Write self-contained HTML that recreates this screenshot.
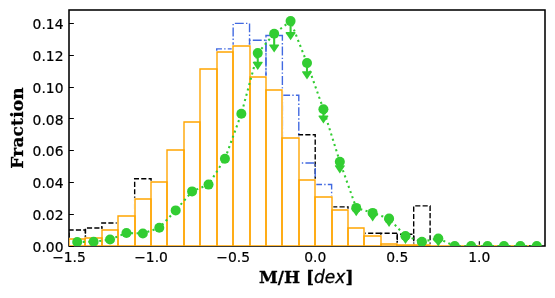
<!DOCTYPE html>
<html lang="en"><head><meta charset="utf-8"><title>M/H distribution</title>
<style>html,body{margin:0;padding:0;background:#fff}body{width:555px;height:298px;overflow:hidden}svg{display:block}</style>
</head><body>
<svg width="555" height="298" viewBox="0 0 555 298">
<rect width="555" height="298" fill="#fff"/>
<defs><clipPath id="ax"><rect x="69.0" y="10.0" width="476.0" height="236.0"/></clipPath></defs>
<rect x="69.0" y="10.0" width="476.00" height="236.00" fill="none" stroke="#000" stroke-width="1.55" />
<path d="M151.07 246.0v-4.86M233.14 246.0v-4.86M315.21 246.0v-4.86M397.28 246.0v-4.86M479.34 246.0v-4.86M69.0 246.50h4.86M69.0 214.50h4.86M69.0 182.50h4.86M69.0 150.50h4.86M69.0 118.50h4.86M69.0 87.50h4.86M69.0 55.50h4.86M69.0 23.50h4.86" stroke="#000" stroke-width="1.11" fill="none"/>
<g clip-path="url(#ax)">
<g stroke="#000" stroke-width="1.39" fill="none" stroke-dasharray="5.14 2.22"><path d="M69.00 246.0H85.41V230.00H69.00Z"/><path d="M85.41 246.0H101.83V228.00H85.41Z"/><path d="M101.83 246.0H118.24V223.00H101.83Z"/><path d="M134.66 246.0H151.07V178.80H134.66Z"/><path d="M298.79 246.0H315.21V134.70H298.79Z"/><path d="M331.62 246.0H348.03V206.90H331.62Z"/><path d="M364.45 246.0H380.86V233.20H364.45Z"/><path d="M380.86 246.0H397.28V233.20H380.86Z"/><path d="M397.28 246.0H413.69V234.20H397.28Z"/><path d="M413.69 246.0H430.10V205.90H413.69Z"/></g>
<g stroke="#4169e1" stroke-width="1.39" fill="none" stroke-dasharray="8.89 2.22 1.39 2.22"><path d="M216.72 246.0H233.14V48.90H216.72Z" stroke-dashoffset="10.82"/><path d="M233.14 246.0H249.55V23.40H233.14Z" stroke-dashoffset="5.44"/><path d="M249.55 246.0H265.97V40.30H249.55Z" stroke-dashoffset="9.12"/><path d="M265.97 246.0H282.38V35.50H265.97Z" stroke-dashoffset="13.9"/><path d="M282.38 246.0H298.79V95.30H282.38Z" stroke-dashoffset="0.82"/><path d="M298.79 246.0H315.21V163.00H298.79Z" stroke-dashoffset="2.73"/><path d="M315.21 246.0H331.62V184.50H315.21Z" stroke-dashoffset="0.79"/></g>
<g fill="#fff" stroke="#fff" stroke-width="2.6" stroke-linejoin="miter"><path d="M69 246.0V239.00H85V246.0Z"/><path d="M85 246.0V238.00H102V246.0Z"/><path d="M102 246.0V230.00H118V246.0Z"/><path d="M118 246.0V216.00H135V246.0Z"/><path d="M135 246.0V199.00H151V246.0Z"/><path d="M151 246.0V182.00H167V246.0Z"/><path d="M167 246.0V150.00H184V246.0Z"/><path d="M184 246.0V122.00H200V246.0Z"/><path d="M200 246.0V69.00H217V246.0Z"/><path d="M217 246.0V52.00H233V246.0Z"/><path d="M233 246.0V46.00H250V246.0Z"/><path d="M250 246.0V77.00H266V246.0Z"/><path d="M266 246.0V90.00H282V246.0Z"/><path d="M282 246.0V138.00H299V246.0Z"/><path d="M299 246.0V180.00H315V246.0Z"/><path d="M315 246.0V197.00H332V246.0Z"/><path d="M332 246.0V210.00H348V246.0Z"/><path d="M348 246.0V228.00H364V246.0Z"/><path d="M364 246.0V236.00H381V246.0Z"/><path d="M381 246.0V244.00H397V246.0Z"/><path d="M397 246.0V245.00H414V246.0Z"/><path d="M414 246.0V245.00H430V246.0Z"/><path d="M430 246.0V246.00H447V246.0Z"/><path d="M447 246.0V246.00H463V246.0Z"/><path d="M463 246.0V246.00H479V246.0Z"/><path d="M479 246.0V246.00H496V246.0Z"/><path d="M496 246.0V246.00H512V246.0Z"/><path d="M512 246.0V246.00H529V246.0Z"/></g>
<g fill="none" stroke="#ffa500" stroke-width="1.39" stroke-linejoin="miter"><path d="M69 246.0V239.00H85V246.0Z"/><path d="M85 246.0V238.00H102V246.0Z"/><path d="M102 246.0V230.00H118V246.0Z"/><path d="M118 246.0V216.00H135V246.0Z"/><path d="M135 246.0V199.00H151V246.0Z"/><path d="M151 246.0V182.00H167V246.0Z"/><path d="M167 246.0V150.00H184V246.0Z"/><path d="M184 246.0V122.00H200V246.0Z"/><path d="M200 246.0V69.00H217V246.0Z"/><path d="M217 246.0V52.00H233V246.0Z"/><path d="M233 246.0V46.00H250V246.0Z"/><path d="M250 246.0V77.00H266V246.0Z"/><path d="M266 246.0V90.00H282V246.0Z"/><path d="M282 246.0V138.00H299V246.0Z"/><path d="M299 246.0V180.00H315V246.0Z"/><path d="M315 246.0V197.00H332V246.0Z"/><path d="M332 246.0V210.00H348V246.0Z"/><path d="M348 246.0V228.00H364V246.0Z"/><path d="M364 246.0V236.00H381V246.0Z"/><path d="M381 246.0V244.00H397V246.0Z"/><path d="M397 246.0V245.00H414V246.0Z"/><path d="M414 246.0V245.00H430V246.0Z"/><path d="M430 246.0V246.00H447V246.0Z"/><path d="M447 246.0V246.00H463V246.0Z"/><path d="M463 246.0V246.00H479V246.0Z"/><path d="M479 246.0V246.00H496V246.0Z"/><path d="M496 246.0V246.00H512V246.0Z"/><path d="M512 246.0V246.00H529V246.0Z"/></g>
<polyline points="77.21,242.00 93.62,241.70 110.03,239.50 126.45,233.00 142.86,233.50 159.28,227.80 175.69,210.40 192.10,191.40 208.52,184.60 224.93,158.80 241.34,113.80 257.76,53.10 274.17,33.70 290.59,21.10 307.00,63.00 323.41,109.20 339.83,161.70 356.24,207.90 372.66,212.90 389.07,218.60 405.48,236.00 421.90,241.70 438.31,238.50 454.72,246.00 471.14,246.00 487.55,246.00 503.97,246.00 520.38,246.00 536.79,246.00" fill="none" stroke="#32cd32" stroke-width="2.08" stroke-dasharray="2.08 3.44"/>
<circle cx="77.21" cy="242.00" r="5.0" fill="#32cd32"/>
<circle cx="93.62" cy="241.70" r="5.0" fill="#32cd32"/>
<circle cx="110.03" cy="239.50" r="5.0" fill="#32cd32"/>
<circle cx="126.45" cy="233.00" r="5.0" fill="#32cd32"/>
<circle cx="142.86" cy="233.50" r="5.0" fill="#32cd32"/>
<circle cx="159.28" cy="227.80" r="5.0" fill="#32cd32"/>
<circle cx="175.69" cy="210.40" r="5.0" fill="#32cd32"/>
<circle cx="192.10" cy="191.40" r="5.0" fill="#32cd32"/>
<circle cx="208.52" cy="184.60" r="5.0" fill="#32cd32"/>
<circle cx="224.93" cy="158.80" r="5.0" fill="#32cd32"/>
<circle cx="241.34" cy="113.80" r="5.0" fill="#32cd32"/>
<path d="M257.76 53.10V62.50" stroke="#32cd32" stroke-width="2.08" fill="none"/>
<path d="M253.16 61.80H262.36L262.76 62.60L257.76 70.00L252.76 62.60Z" fill="#32cd32"/>
<circle cx="257.76" cy="53.10" r="5.0" fill="#32cd32"/>
<path d="M274.17 33.70V45.10" stroke="#32cd32" stroke-width="2.08" fill="none"/>
<path d="M269.57 44.40H278.77L279.17 45.20L274.17 52.60L269.17 45.20Z" fill="#32cd32"/>
<circle cx="274.17" cy="33.70" r="5.0" fill="#32cd32"/>
<path d="M290.59 21.10V32.80" stroke="#32cd32" stroke-width="2.08" fill="none"/>
<path d="M285.99 32.10H295.19L295.59 32.90L290.59 40.30L285.59 32.90Z" fill="#32cd32"/>
<circle cx="290.59" cy="21.10" r="5.0" fill="#32cd32"/>
<path d="M307.00 63.00V71.90" stroke="#32cd32" stroke-width="2.08" fill="none"/>
<path d="M302.40 71.20H311.60L312.00 72.00L307.00 79.40L302.00 72.00Z" fill="#32cd32"/>
<circle cx="307.00" cy="63.00" r="5.0" fill="#32cd32"/>
<path d="M323.41 109.20V116.10" stroke="#32cd32" stroke-width="2.08" fill="none"/>
<path d="M318.81 115.40H328.01L328.41 116.20L323.41 123.60L318.41 116.20Z" fill="#32cd32"/>
<circle cx="323.41" cy="109.20" r="5.0" fill="#32cd32"/>
<path d="M339.83 161.70V166.00" stroke="#32cd32" stroke-width="2.08" fill="none"/>
<path d="M335.23 165.30H344.43L344.83 166.10L339.83 173.50L334.83 166.10Z" fill="#32cd32"/>
<circle cx="339.83" cy="161.70" r="5.0" fill="#32cd32"/>
<path d="M356.24 207.90V208.70" stroke="#32cd32" stroke-width="2.08" fill="none"/>
<path d="M351.64 208.00H360.84L361.24 208.80L356.24 216.20L351.24 208.80Z" fill="#32cd32"/>
<circle cx="356.24" cy="207.90" r="5.0" fill="#32cd32"/>
<path d="M372.66 212.90V213.90" stroke="#32cd32" stroke-width="2.08" fill="none"/>
<path d="M368.06 213.20H377.26L377.66 214.00L372.66 221.40L367.66 214.00Z" fill="#32cd32"/>
<circle cx="372.66" cy="212.90" r="5.0" fill="#32cd32"/>
<path d="M389.07 218.60V219.40" stroke="#32cd32" stroke-width="2.08" fill="none"/>
<path d="M384.47 218.70H393.67L394.07 219.50L389.07 226.90L384.07 219.50Z" fill="#32cd32"/>
<circle cx="389.07" cy="218.60" r="5.0" fill="#32cd32"/>
<path d="M405.48 236.00V236.40" stroke="#32cd32" stroke-width="2.08" fill="none"/>
<path d="M400.88 235.70H410.08L410.48 236.50L405.48 243.90L400.48 236.50Z" fill="#32cd32"/>
<circle cx="405.48" cy="236.00" r="5.0" fill="#32cd32"/>
<path d="M421.90 241.70V242.50" stroke="#32cd32" stroke-width="2.08" fill="none"/>
<path d="M417.30 241.80H426.50L426.90 242.60L421.90 250.00L416.90 242.60Z" fill="#32cd32"/>
<circle cx="421.90" cy="241.70" r="5.0" fill="#32cd32"/>
<path d="M438.31 238.50V239.00" stroke="#32cd32" stroke-width="2.08" fill="none"/>
<path d="M433.71 238.30H442.91L443.31 239.10L438.31 246.50L433.31 239.10Z" fill="#32cd32"/>
<circle cx="438.31" cy="238.50" r="5.0" fill="#32cd32"/>
<circle cx="454.72" cy="246.00" r="5.0" fill="#32cd32"/>
<circle cx="471.14" cy="246.00" r="5.0" fill="#32cd32"/>
<circle cx="487.55" cy="246.00" r="5.0" fill="#32cd32"/>
<circle cx="503.97" cy="246.00" r="5.0" fill="#32cd32"/>
<circle cx="520.38" cy="246.00" r="5.0" fill="#32cd32"/>
<circle cx="536.79" cy="246.00" r="5.0" fill="#32cd32"/>
</g>
<g font-family="'DejaVu Sans','Liberation Sans',sans-serif" font-size="13.89" fill="#000" stroke="#000" stroke-width="0.2">
<text x="69.00" y="262.4" text-anchor="middle">−1.5</text>
<text x="151.07" y="262.4" text-anchor="middle">−1.0</text>
<text x="233.14" y="262.4" text-anchor="middle">−0.5</text>
<text x="315.21" y="262.4" text-anchor="middle">0.0</text>
<text x="397.28" y="262.4" text-anchor="middle">0.5</text>
<text x="479.34" y="262.4" text-anchor="middle">1.0</text>
<text x="63.5" y="251.60" text-anchor="end">0.00</text>
<text x="63.5" y="219.83" text-anchor="end">0.02</text>
<text x="63.5" y="188.06" text-anchor="end">0.04</text>
<text x="63.5" y="156.28" text-anchor="end">0.06</text>
<text x="63.5" y="124.51" text-anchor="end">0.08</text>
<text x="63.5" y="92.74" text-anchor="end">0.10</text>
<text x="63.5" y="60.97" text-anchor="end">0.12</text>
<text x="63.5" y="29.20" text-anchor="end">0.14</text>
</g>
<g font-family="'DejaVu Serif','Liberation Serif',serif" font-weight="bold" font-size="17" fill="#000" stroke="#000" stroke-width="0.3">
<text transform="translate(23.1 168.7) rotate(-90)" textLength="81.4" lengthAdjust="spacing">Fraction</text>
<text x="259.0" y="282.8">M/H [<tspan font-family="'DejaVu Sans','Liberation Sans',sans-serif" font-weight="normal" font-style="italic">dex</tspan>]</text>
</g>
</svg>
</body></html>
